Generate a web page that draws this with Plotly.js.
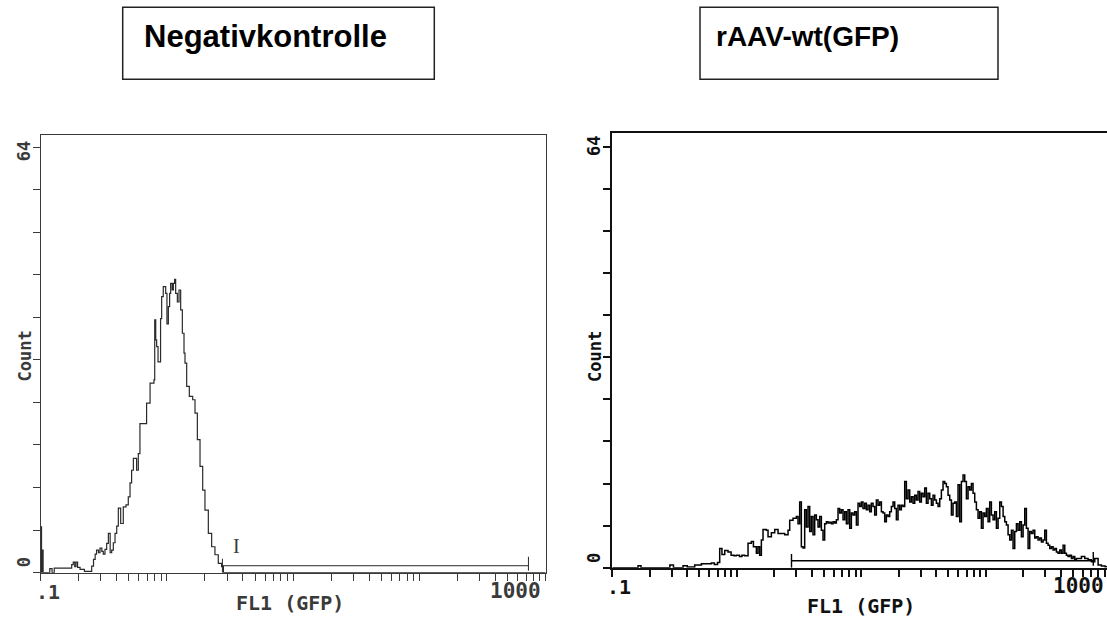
<!DOCTYPE html>
<html><head><meta charset="utf-8">
<script src="https://cdn.plot.ly/plotly-3.0.1.min.js"></script>
<style>html,body{margin:0;padding:0;overflow:hidden;background:#fff}#chart{width:1130px;height:622px}</style>
</head><body><div id="chart"></div>
<script>
// ---- data ----
const panelTitles = ["Negativkontrolle", "rAAV-wt(GFP)"];
const xAxisTitle = "FL1 (GFP)";
const yAxisTitle = "Count";
const xTickLabels = [".1", "1000"];
const yTickLabels = ["0", "64"];
const gateLabel = "I";

// Negativkontrolle histogram (FL1 value where each step starts, count)
const negFL1 = [
  0.1, 0.1015, 0.103, 0.1045, 0.118, 0.123, 0.128, 0.176, 0.181, 0.186,
  0.1905, 0.196, 0.205, 0.222, 0.2535, 0.262, 0.27, 0.277, 0.287, 0.295,
  0.305, 0.313, 0.323, 0.333, 0.3435, 0.355, 0.365, 0.376, 0.388, 0.40,
  0.412, 0.43, 0.451, 0.474, 0.494, 0.51, 0.525, 0.542, 0.575, 0.593,
  0.611, 0.69, 0.735, 0.789, 0.80, 0.815, 0.829, 0.85, 0.89, 0.908,
  0.935, 0.977, 1.0, 1.026, 1.05, 1.07, 1.10, 1.124, 1.15, 1.172,
  1.209, 1.246, 1.284, 1.324, 1.365, 1.39, 1.433, 1.504, 1.599, 1.668,
  1.741, 1.828, 1.919, 2.0, 2.127, 2.26, 2.40, 2.55, 2.71, 2.80,
  2.88, 1000
];
const negCount = [
  6.9, 0, 3.4, 0, 0.6, 0, 0.7, 1.2, 1.6, 0.9,
  1.6, 0.8, 0.5, 0.2, 1.0, 2.0, 2.8, 3.4, 3.0, 3.7,
  3.2, 2.8, 3.5, 4.4, 5.9, 3.0, 3.4, 4.5, 5.9, 7.0,
  9.7, 7.4, 9.9, 10.2, 11.4, 13.5, 15.4, 17.2, 15.4, 17.9,
  22.4, 25.5, 28.5, 29.0, 38.0, 35.0, 34.0, 31.7, 38.2, 41.5,
  43.0, 42.0, 37.4, 40.0, 42.0, 43.5, 42.5, 43.5, 44.1, 42.0,
  40.7, 42.5, 39.5, 36.0, 33.0, 31.5, 28.0, 26.5, 26.0, 24.0,
  20.0, 16.0, 12.4, 9.4, 5.9, 3.9, 2.7, 1.4, 0.9, 0,
  0, 0
];

// rAAV-wt(GFP) histogram
const aavFL1 = [
  0.1, 0.161, 0.17, 0.29, 0.31, 0.37, 0.40, 0.459, 0.52, 0.625,
  0.66, 0.70, 0.729, 0.76, 0.80, 0.85, 0.90, 0.95, 0.992, 1.05,
  1.10, 1.157, 1.231, 1.309, 1.36, 1.436, 1.48, 1.527, 1.575, 1.624,
  1.728, 1.782, 1.895, 2.016, 2.144, 2.28, 2.425, 2.579, 2.66, 2.829,
  3.008, 3.103, 3.2, 3.3, 3.403, 3.509, 3.619, 3.733, 3.85, 3.971,
  4.095, 4.224, 4.356, 4.492, 4.633, 4.778, 4.927, 5.081, 5.241, 5.405,
  5.574, 5.749, 5.929, 6.114, 6.306, 6.503, 6.707, 6.916, 7.133, 7.357,
  7.587, 7.825, 8.07, 8.322, 8.583, 8.851, 9.129, 9.414, 9.709, 10.01,
  10.32, 10.65, 10.98, 11.32, 11.68, 12.04, 12.42, 12.81, 13.21, 13.63,
  14.06, 14.5, 14.95, 15.42, 15.9, 16.4, 16.91, 17.44, 17.99, 18.55,
  19.13, 19.73, 20.35, 20.98, 21.64, 22.32, 23.02, 23.74, 24.48, 25.25,
  26.04, 26.86, 27.7, 28.56, 29.46, 30.38, 31.33, 32.31, 33.32, 34.37,
  35.45, 36.56, 37.7, 38.88, 40.1, 41.35, 42.65, 43.98, 45.36, 46.78,
  48.24, 49.75, 51.31, 52.92, 54.57, 56.28, 58.04, 59.86, 61.74, 63.68,
  65.67, 67.73, 69.85, 72.03, 74.29, 76.61, 79.01, 81.49, 84.04, 86.67,
  89.38, 92.18, 95.07, 98.04, 101.1, 104.3, 107.5, 110.9, 114.4, 118,
  121.7, 125.5, 129.4, 133.5, 137.7, 142, 146.4, 151, 155.7, 160.6,
  165.6, 170.8, 176.2, 181.7, 187.4, 193.2, 199.3, 205.5, 211.9, 218.6,
  225.4, 232.5, 239.8, 247.3, 255, 263, 271.2, 279.7, 288.5, 297.5,
  306.8, 316.4, 326.3, 336.5, 347.1, 357.9, 369.1, 380.7, 392.6, 405,
  417.7, 430.8, 444.2, 458.1, 472.5, 487.3, 502.5, 518.2, 534.5, 551.2,
  586.2, 623.5, 663.1, 705.3, 750.3, 798, 848.7, 907.8, 1000
];
const aavCount = [
  0, 0.3, 0, 0.4, 0, 0.3, 0.1, 0.4, 0.6, 0.7,
  0.5, 0.8, 2.9, 2.0, 2.6, 2.4, 1.9, 1.8, 1.9, 1.7,
  1.9, 1.8, 3.7, 4.0, 3.2, 2.2, 3.2, 1.9, 4.2, 5.8,
  5.7, 4.7, 5.3, 5.8, 5.2, 5.2, 5.0, 5.7, 7.2, 7.5,
  7.8, 6.7, 10.0, 3.2, 3.0, 8.8, 6.2, 9.3, 5.5, 7.8,
  5.0, 8.0, 7.3, 6.2, 7.8, 5.7, 4.2, 6.7, 7.0, 6.8,
  6.9, 6.7, 7.0, 6.8, 7.3, 9.0, 8.3, 8.8, 7.3, 8.5,
  6.7, 8.8, 6.0, 8.3, 8.0, 8.5, 6.5, 9.8, 9.3, 10.0,
  9.0, 9.8, 8.8, 9.5, 8.5, 9.8, 9.3, 8.0, 10.3, 9.5,
  10.0, 8.5, 8.3, 7.0, 8.0, 7.8, 8.5, 9.3, 10.0, 9.0,
  7.3, 9.5, 8.8, 9.5, 9.3, 13.1, 10.5, 11.8, 10.0, 10.8,
  9.8, 11.0, 10.3, 11.6, 10.0, 11.3, 10.8, 12.1, 9.8, 11.3,
  10.5, 9.5, 11.0, 10.3, 9.8, 9.3, 10.5, 11.8, 13.1, 12.8,
  12.3, 11.0, 10.3, 8.0, 9.8, 10.0, 7.8, 12.6, 7.0, 13.1,
  14.1, 13.1, 10.5, 12.3, 11.8, 12.8, 11.3, 10.0, 8.8, 7.5,
  8.5, 6.0, 8.3, 7.8, 9.0, 7.0, 10.0, 8.0, 7.3, 8.5,
  6.0, 7.5, 10.0, 9.3, 7.8, 7.0, 6.5, 5.0, 4.2, 5.7,
  2.9, 5.5, 6.7, 5.7, 7.0, 4.7, 6.5, 9.0, 6.0, 2.9,
  5.5, 5.2, 5.7, 4.5, 4.7, 4.2, 4.5, 3.9, 4.2, 5.7,
  3.7, 3.4, 2.9, 3.2, 2.7, 2.9, 2.4, 2.2, 2.7, 2.2,
  3.4, 2.2, 1.9, 1.7, 1.9, 1.4, 1.7, 1.2, 1.4, 1.4,
  1.7, 1.4, 1.2, 0.9, 1.4, 0.4, 0.25, 0.15, 0
];

// marker gate (same region in both panels)
const gateFL1 = [2.75, 730];
const gateLevel = 1.05;
const gateTickSpan = [0.3, 2.4];

// axis scales
const countMax = 64;
const countDivisions = 10;
const decadeStarts = [0.1, 1, 10, 100];
const mantissas = [1, 2, 3, 4, 5, 6, 7, 8, 9];

// ---- layout helpers ----
const W = 1130, H = 622;
const px = v => v / W;
const py = v => 1 - v / H;

const xTicks = [];
decadeStarts.forEach(d => mantissas.forEach(m => xTicks.push(+(d * m).toPrecision(3))));
xTicks.push(1000);
const yTicks = [];
for (let i = 0; i <= countDivisions; i++) yTicks.push(+(countMax * i / countDivisions).toFixed(2));

const mono = "DejaVu Sans Mono, monospace";
const leftInk = "#3a3a3a", rightInk = "#111111";

function histTrace(x, y, xa, ya, color, width) {
  return {x: x, y: y, xaxis: xa, yaxis: ya, type: "scatter", mode: "lines",
          line: {shape: "hv", color: color, width: width}, hoverinfo: "skip"};
}
function gateTraces(xa, ya, color, width) {
  return [
    {x: gateFL1, y: [gateLevel, gateLevel], xaxis: xa, yaxis: ya, mode: "lines",
     line: {color: color, width: width}, hoverinfo: "skip"},
    {x: [gateFL1[0], gateFL1[0]], y: [0, gateTickSpan[1] - 0.3], xaxis: xa, yaxis: ya, mode: "lines",
     line: {color: color, width: width}, hoverinfo: "skip"},
    {x: [gateFL1[1], gateFL1[1]], y: gateTickSpan, xaxis: xa, yaxis: ya, mode: "lines",
     line: {color: color, width: width}, hoverinfo: "skip"}
  ];
}

const data = [
  histTrace(negFL1, negCount, "x", "y", "#2a2a2a", 1.2),
  ...gateTraces("x", "y", "#2a2a2a", 1),
  histTrace(aavFL1, aavCount, "x2", "y2", "#000000", 1.5),
  ...gateTraces("x2", "y2", "#000000", 1.4)
];

function xAxis(domain, anchor, color, lw) {
  return {domain: domain, anchor: anchor, type: "log", range: [-1, 3],
    showgrid: false, zeroline: false, showline: true, mirror: true,
    linecolor: color, linewidth: lw, ticks: "outside", ticklen: 7, tickwidth: lw,
    tickcolor: color, tickmode: "array", tickvals: xTicks, showticklabels: false, fixedrange: true};
}
function yAxis(domain, anchor, top, color, lw) {
  return {domain: domain, anchor: anchor, range: [0, top],
    showgrid: false, zeroline: false, showline: true, mirror: true,
    linecolor: color, linewidth: lw, ticks: "outside", ticklen: 7, tickwidth: lw,
    tickcolor: color, tickmode: "array", tickvals: yTicks, showticklabels: false, fixedrange: true};
}

function ann(text, x, y, size, color, opts) {
  return Object.assign({xref: "paper", yref: "paper", x: px(x), y: py(y), text: text,
    showarrow: false, xanchor: "center", yanchor: "middle",
    font: {family: mono, size: size, color: color, weight: "bold"}}, opts || {});
}

const annotations = [
  // left panel
  ann(yTickLabels[1], 23.5, 151.7, 17, leftInk, {textangle: -90}),
  ann(yTickLabels[0], 23.7, 562.5, 17, leftInk, {textangle: -90}),
  ann(yAxisTitle, 24.5, 356, 17, leftInk, {textangle: -90}),
  ann(xTickLabels[0], 47.5, 591.7, 20, leftInk),
  ann(xTickLabels[1], 543, 590.7, 21, leftInk, {xanchor: "right"}),
  ann(xAxisTitle, 290, 603, 20, leftInk),
  ann(gateLabel, 236, 546, 20, leftInk, {font: {family: "Liberation Serif, serif", size: 20, color: leftInk}}),
  // right panel
  ann(yTickLabels[1], 594, 146, 17, rightInk, {textangle: -90}),
  ann(yTickLabels[0], 594, 558, 17, rightInk, {textangle: -90}),
  ann(yAxisTitle, 595, 357, 17, rightInk, {textangle: -90}),
  ann(xTickLabels[0], 619, 586.7, 20, rightInk),
  ann(xTickLabels[1], 1106, 586, 21, rightInk, {xanchor: "right"}),
  ann(xAxisTitle, 861, 606, 20, rightInk),
  // boxed titles
  ann(panelTitles[0], 142, 37, 31, "#000", {xanchor: "left",
    font: {family: "Liberation Sans, Arial, sans-serif", size: 31, color: "#000", weight: "bold"}}),
  ann(panelTitles[1], 714, 37, 28, "#000", {xanchor: "left",
    font: {family: "Liberation Sans, Arial, sans-serif", size: 28, color: "#000", weight: "bold"}})
];

const shapes = [
  {type: "rect", xref: "paper", yref: "paper", x0: px(122.7), x1: px(434.3), y0: py(79.3), y1: py(7.3),
   line: {color: "#222", width: 1.5}},
  {type: "rect", xref: "paper", yref: "paper", x0: px(700), x1: px(998), y0: py(79.3), y1: py(7.3),
   line: {color: "#222", width: 1.5}}
];

const layout = {
  width: W, height: H, margin: {l: 0, r: 0, t: 0, b: 0, pad: 0},
  paper_bgcolor: "#fff", plot_bgcolor: "#fff", showlegend: false,
  xaxis: xAxis([px(40.7), px(545.7)], "y", leftInk, 1),
  yaxis: yAxis([py(572.7), py(134.7)], "x", 65.85, leftInk, 1),
  xaxis2: xAxis([px(612.3), px(1110.3)], "y2", rightInk, 2),
  yaxis2: yAxis([py(567.7), py(133.3)], "x2", 66.04, rightInk, 2),
  annotations: annotations, shapes: shapes
};

Plotly.newPlot("chart", data, layout, {displayModeBar: false, staticPlot: true});
</script>
</body></html>
